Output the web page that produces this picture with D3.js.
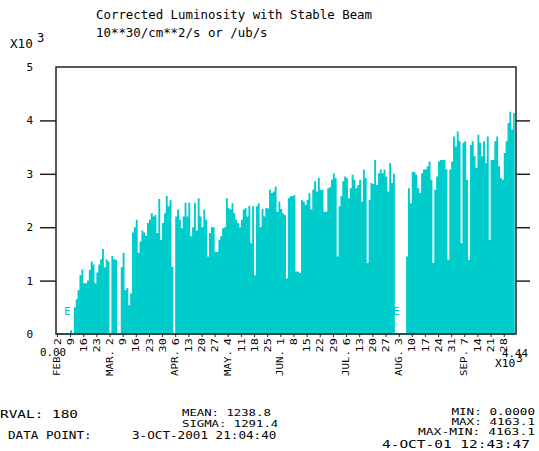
<!DOCTYPE html>
<html>
<head>
<meta charset="utf-8">
<script src="https://cdn.jsdelivr.net/npm/d3@7"></script>
<style>
  body { margin: 0; background: #fff; }
  text { font-family: "DejaVu Sans Mono", "Liberation Mono", monospace; fill: #000; }
</style>
</head>
<body>
<svg id="chart" width="539" height="451"></svg>
<script>
// corrected luminosity, x10^3 /ub/s, one value per day starting 2-FEB-2001
var lumi = [
  0, 0, 0, 0, 0, 0, 0, 0.07, 0, 0.5,
  0.65, 0.82, 1.1, 1.21, 0.95, 0.95, 1.0, 1.2, 1.36, 1.3,
  0.95, 1.15, 1.3, 1.4, 1.59, 1.25, 1.4, 1.36, 0, 1.46,
  1.4, 1.39, 0, 0, 1.25, 1.52, 0.82, 0.86, 0.54, 0.76,
  1.9, 2.0, 2.14, 1.52, 1.73, 1.94, 1.9, 1.84, 2.08, 2.14,
  2.26, 2.2, 2.23, 1.89, 2.53, 1.76, 2.08, 2.26, 2.59, 2.39,
  2.51, 1.26, 0, 2.2, 2.33, 2.14, 1.98, 2.2, 2.46, 2.2,
  2.46, 1.83, 2.0, 2.46, 1.94, 2.54, 2.2, 2.0, 2.33, 2.14,
  1.45, 1.89, 2.0, 2.0, 1.54, 1.54, 1.76, 1.83, 1.98, 2.0,
  2.54, 2.36, 2.33, 2.45, 2.26, 2.14, 2.08, 2.0, 2.14, 2.33,
  2.36, 2.2, 2.4, 1.7, 2.39, 1.1, 2.39, 2.45, 2.0, 2.34,
  2.2, 2.36, 2.35, 2.7, 2.64, 2.67, 2.76, 2.29, 2.48, 2.34,
  2.26, 2.23, 1.04, 2.54, 2.58, 2.58, 2.6, 1.17, 1.17, 1.14,
  2.51, 2.48, 2.42, 2.51, 2.64, 2.33, 2.7, 2.86, 2.67, 2.92,
  2.7, 2.7, 2.29, 2.29, 2.73, 2.75, 2.89, 3.01, 2.92, 1.45,
  2.39, 2.58, 2.86, 2.95, 2.92, 2.54, 2.73, 2.98, 2.89, 2.73,
  2.79, 2.89, 2.48, 3.08, 2.92, 1.33, 2.51, 2.83, 2.81, 3.26,
  2.79, 3.01, 3.08, 3.01, 3.08, 2.95, 2.67, 3.2, 2.83, 3.0,
  0, 0, 0, 0, 0, 0, 1.45, 2.73, 2.45, 3.04,
  3.03, 2.98, 2.73, 2.64, 3.01, 3.08, 3.08, 3.14, 3.23, 2.89,
  1.33, 2.7, 2.95, 3.23, 3.26, 3.26, 3.26, 3.08, 1.39, 3.08,
  3.23, 3.7, 3.51, 3.79, 3.61, 1.7, 3.58, 3.61, 2.89, 1.39,
  3.54, 3.61, 3.33, 3.11, 3.73, 3.58, 3.33, 3.61, 3.2, 3.7,
  1.76, 3.26, 3.26, 3.61, 3.7, 3.14, 2.92, 2.89, 3.39, 3.61,
  3.95, 4.16, 3.83, 4.14
];

var weekLabels = ["2","9","16","23","2","9","16","23","30","6","13","20","27",
  "4","11","18","25","1","8","15","22","29","6","13","20","27",
  "3","10","17","24","31","7","14","21","28"];
var monthNames = ["FEB","MAR","APR","MAY","JUN","JUL","AUG","SEP"];
var yTicks = [0, 1, 2, 3, 4, 5];

var titleLines = ["Corrected Luminosity with Stable Beam", "10**30/cm**2/s or /ub/s"];
var statsLeft = ["RVAL:  180", "DATA POINT:"];
var lastPointText = "3-OCT-2001 21:04:40";
var statsMid = ["MEAN: 1238.8", "SIGMA: 1291.4"];
var statsRight = ["MIN: 0.0000", "MAX: 4163.1", "MAX-MIN: 4163.1"];
var printDate = "4-OCT-01 12:43:47";
var xRangeText = ["0.00", "4.44"];

var firstDay = new Date(2001, 1, 2);
var lastPoint = new Date(2001, 9, 3, 21, 4, 40);

var svg = d3.select("#chart");
var cyan = "#00cccc";

var x = d3.scaleTime()
  .domain([new Date(2001, 1, 1, 12), new Date(2001, 9, 4, 12, 43)])
  .range([56, 516]);
var y = d3.scaleLinear().domain([0, 5]).range([334, 67]);

function label(g, str, px, py, size, cw, anchor) {
  return g.append("text")
    .attr("x", px).attr("y", py)
    .attr("font-size", size)
    .attr("text-anchor", anchor || "start")
    .attr("textLength", str.length * cw)
    .attr("lengthAdjust", "spacingAndGlyphs")
    .text(str);
}

// data
var pts = lumi.map(function(v, i) { return { t: d3.timeDay.offset(firstDay, i), v: v }; });
pts.push({ t: lastPoint, v: lumi[lumi.length - 1] });

var area = d3.area()
  .curve(d3.curveStepAfter)
  .x(function(d) { return x(d.t); })
  .y0(y(0))
  .y1(function(d) { return y(d.v); });

svg.append("line")
  .attr("x1", x.range()[0]).attr("x2", x(lastPoint))
  .attr("y1", y(0)).attr("y2", y(0))
  .attr("stroke", cyan).attr("stroke-width", 1.5);

svg.append("path").datum(pts)
  .attr("d", area)
  .attr("fill", cyan);

// E markers
svg.append("text").attr("x", 64).attr("y", 315).attr("font-size", 11).style("fill", cyan).text("E");
svg.append("text").attr("x", 393).attr("y", 315).attr("font-size", 11).style("fill", cyan).text("E");

// frame
svg.append("rect")
  .attr("x", 56).attr("y", y(5))
  .attr("width", 460).attr("height", y(0) - y(5))
  .attr("fill", "none").attr("stroke", "#222").attr("stroke-width", 1.5);

// y axes
var yl = svg.append("g").attr("transform", "translate(56,0)")
  .call(d3.axisLeft(y).tickValues(yTicks).tickSize(16).tickPadding(7).tickFormat(d3.format("d")));
yl.select(".domain").remove();
yl.selectAll(".tick line").attr("stroke", "#222").attr("stroke-width", 1.5)
  .filter(function(d) { return d === 0 || d === 5; }).remove();
yl.selectAll(".tick text").attr("font-size", 11).attr("font-family", null);

var yr = svg.append("g").attr("transform", "translate(516,0)")
  .call(d3.axisRight(y).tickValues([1, 2, 3, 4]).tickSize(14).tickFormat(""));
yr.select(".domain").remove();
yr.selectAll(".tick line").attr("stroke", "#222").attr("stroke-width", 1.5);

// x axis: weekly ticks (Fridays), day-of-month labels
var weeks = d3.timeFriday.range(firstDay, new Date(2001, 8, 29));
var xa = svg.append("g").attr("transform", "translate(0," + y(0) + ")")
  .call(d3.axisBottom(x).tickValues(weeks).tickSize(3)
    .tickFormat(function(d, i) { return weekLabels[i]; }));
xa.select(".domain").remove();
xa.selectAll(".tick line").attr("stroke", "#222");
xa.selectAll(".tick text")
  .attr("font-family", null)
  .attr("font-size", 9)
  .attr("transform", "rotate(-90)")
  .attr("text-anchor", "end")
  .attr("x", -4).attr("y", 0).attr("dy", "0.35em")
  .attr("textLength", function(d, i) { return weekLabels[i].length * 7.2; })
  .attr("lengthAdjust", "spacingAndGlyphs");

// month names under the first week of each month
var firstWeeks = weeks.filter(function(d, i) { return i === 0 || d.getMonth() !== weeks[i - 1].getMonth(); });
svg.append("g").selectAll("text")
  .data(firstWeeks)
  .enter().append("text")
  .attr("transform", function(d) { return "translate(" + x(d) + ",376) rotate(-90)"; })
  .attr("dy", "0.35em")
  .attr("font-size", 9)
  .attr("textLength", 26)
  .attr("lengthAdjust", "spacingAndGlyphs")
  .text(function(d, i) { return monthNames[i] + "."; });

// axis range labels
label(svg, xRangeText[0], 40, 356, 11, 6.5);
label(svg, xRangeText[1], 528, 357, 11, 6.5, "end");
label(svg, "X10", 495, 367, 11, 6.8);
label(svg, "3", 516, 362, 11, 6.8);

// header
label(svg, titleLines[0], 96, 19, 12, 7.46);
label(svg, titleLines[1], 96, 37, 12, 7.46);
label(svg, "X10", 10, 48, 12, 7.6);
label(svg, "3", 37, 42, 12, 7.4);

// footer
label(svg, statsLeft[0], 0, 418, 11, 7.8);
label(svg, statsLeft[1], 8, 439, 11, 7.6);
label(svg, lastPointText, 132, 439, 11, 7.6);
label(svg, statsMid[0], 182, 416, 9, 7.4);
label(svg, statsMid[1], 182, 427, 9, 7.4);
label(svg, statsRight[0], 535, 415, 9, 7.6, "end");
label(svg, statsRight[1], 535, 425, 9, 7.6, "end");
label(svg, statsRight[2], 535, 435, 9, 7.8, "end");
label(svg, printDate, 382, 448, 11, 8.7);
</script>
</body>
</html>
